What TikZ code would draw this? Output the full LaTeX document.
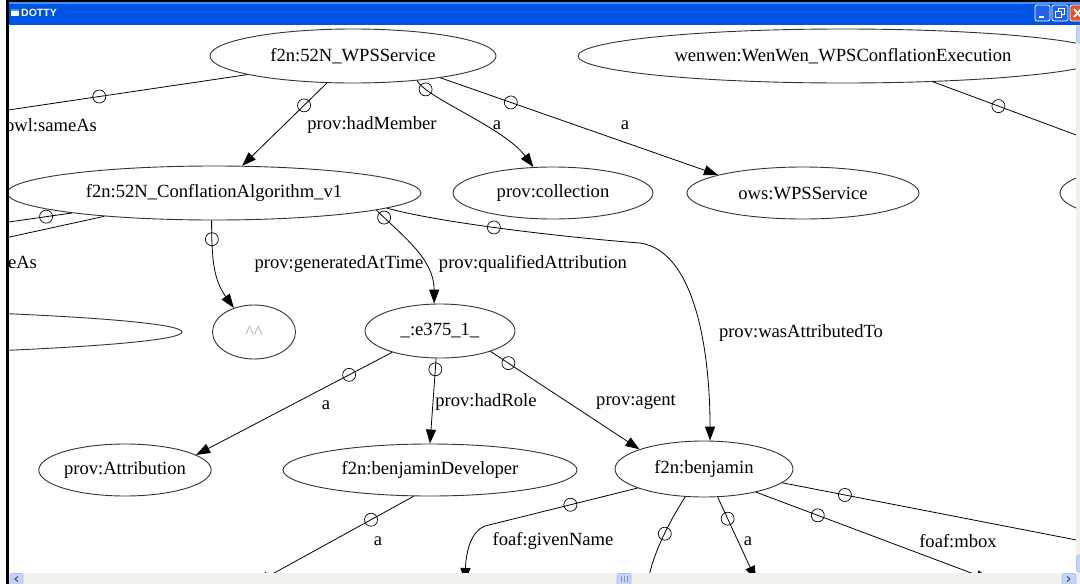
\documentclass[tikz,border=0pt]{standalone}
\usepackage{fontspec}
\setmainfont{Liberation Serif}
\newfontfamily\chromefont{Liberation Sans}
\usetikzlibrary{shapes.geometric,arrows.meta}
\newcommand\graphfont{\fontsize{18.6}{22}\selectfont}
\definecolor{titleblue}{RGB}{0,84,227}
\definecolor{titlelight}{RGB}{61,149,255}
\definecolor{btnblue}{RGB}{34,99,232}
\definecolor{closered}{RGB}{226,82,44}
\definecolor{scrollbg}{RGB}{243,241,236}
\definecolor{scrollbtn}{RGB}{196,213,252}
\definecolor{scrolledge}{RGB}{170,192,240}
\begin{document}
\begin{tikzpicture}[x=1pt,y=-1pt,
  gnode/.style={ellipse, draw=black!80, line width=0.9pt, inner sep=0pt, font=\graphfont},
  edge/.style={draw=black, line width=0.8pt},
  arr/.style={edge, -{Triangle[length=14pt,width=10pt]}},
  tail/.style={circle, draw=black, line width=0.7pt, minimum size=13pt, inner sep=0pt},
  elabel/.style={font=\graphfont, inner sep=0pt},
  sbtn/.style={fill=scrollbtn, draw=scrolledge, line width=0.6pt, rounded corners=1.5pt},
]
\useasboundingbox (0,0) rectangle (1080,584);
\fill[white] (0,0) rectangle (1080,584);

% ---------------- graph in the client area ----------------
\begin{scope}
\clip (9,25) rectangle (1076,573);

% nodes
\node[gnode, minimum width=286pt, minimum height=54pt] (wps) at (353,56) {f2n:52N\_WPSService};
\node[gnode, minimum width=530pt, minimum height=54pt] (wenwen) at (843,56) {wenwen:WenWen\_WPSConflationExecution};
\node[gnode, minimum width=414pt, minimum height=54pt] (conf) at (214,193) {f2n:52N\_ConflationAlgorithm\_v1};
\node[gnode, minimum width=200pt, minimum height=52pt] (coll) at (553,193) {prov:collection};
\node[gnode, minimum width=232pt, minimum height=52pt] (ows) at (803,193) {ows:WPSService};
\node[gnode, minimum width=176pt, minimum height=52pt] (rightpart) at (1148,193) {};
\node[gnode, minimum width=1314pt, minimum height=54pt] (leftpart) at (-475,332) {};
\node[gnode, minimum width=83pt, minimum height=54pt] (carets) at (254,332)
  {\raisebox{-4pt}{\textcolor{black!35}{\textasciicircum\textasciicircum}}};
\node[gnode, minimum width=150pt, minimum height=54pt] (e375) at (440,331) {\_:e375\_1\_};
\node[gnode, minimum width=170pt, minimum height=52pt] (attr) at (125,470) {prov:Attribution};
\node[gnode, minimum width=294pt, minimum height=52pt] (bdev) at (430,470) {f2n:benjaminDeveloper};
\node[gnode, minimum width=178pt, minimum height=56pt] (benj) at (704,469) {f2n:benjamin};

% ends of edges whose other node lies outside the view
\coordinate (offL1) at (-100,126);
\coordinate (offL2) at (-100,237.5);
\coordinate (offL3) at (-100,261);
\coordinate (offR1) at (1200,181);
\coordinate (offR2) at (1200,564);
\coordinate (offB1) at (256,583);
\coordinate (offB2) at (465,582);
\coordinate (offB3) at (646,600);
\coordinate (offB4) at (756,580);
\coordinate (offB5) at (990,580);
\coordinate (wbend) at (640,243);
\coordinate (gbend) at (485,526);

% edges
\draw[edge] (wps.-170.3) -- node[tail,pos=0.4265]{} (offL1);
\draw[arr] (wps.-134.5) -- node[tail,pos=0.27]{} (conf.44);
\draw[arr] (wps.-21.4) .. controls +(10,18) and +(-30,-40) .. (coll.127) node[tail,pos=0.15]{};
\draw[arr] (wps.-14.3) -- node[tail,pos=0.254]{} (ows.168);
\draw[edge] (wenwen.-16.2) -- node[tail,pos=0.245]{} (offR1);
\draw[edge] (conf.-172.6) -- node[tail,pos=0.15]{} (offL2);
\draw[edge] (conf.-168.4) -- (offL3);
\draw[arr] (conf.-95) .. controls +(0,40) and +(-20,-28) .. (carets.130) node[tail,pos=0.17]{};
\draw[arr] (conf.-6.67) .. controls +(25,25) and +(0,-45) .. (e375.102) node[tail,pos=0.1]{};
\draw[arr] (conf.-5.2) .. controls +(50,14) and +(-80,-6) .. (wbend) node[tail,pos=0.47]{}
  .. controls +(55,8) and +(0,-90) .. (benj.78);
\draw[arr] (e375.-156.7) -- node[tail,pos=0.22]{} (attr.12);
\draw[arr] (e375.-98) -- node[tail,pos=0.128]{} (bdev.90);
\draw[arr] (e375.-22.3) -- node[tail,pos=0.12]{} (benj.163);
\draw[arr] (bdev.-122) -- node[tail,pos=0.27]{} (offB1);
\draw[arr] (benj.-164.6) -- node[tail,pos=0.44]{} (gbend) .. controls +(-14,5) and +(1,-30) .. (offB2);
\draw[arr] (benj.-124.7) .. controls +(-18,28) and +(4,-40) .. (offB3) node[tail,pos=0.4]{};
\draw[arr] (benj.-64.9) -- node[tail,pos=0.26]{} (offB4);
\draw[arr] (benj.-24.2) -- node[tail,pos=0.264]{} (offB5);
\draw[edge] (benj.-10.9) -- node[tail,pos=0.15]{} (offR2);

% edge labels
\node[elabel] (lsameas) at (51,125) {owl:sameAs};
\node[elabel] (lsameasb) at (-9,262) {owl:sameAs};
\node[elabel] (lhadmember) at (372,125) {prov:hadMember};
\node[elabel] (lacoll) at (497,125) {a};
\node[elabel] (laows) at (625,125) {a};
\node[elabel] (lgen) at (339,264) {prov:generatedAtTime};
\node[elabel] (lqual) at (533,264) {prov:qualifiedAttribution};
\node[elabel] (lattrto) at (801,333) {prov:wasAttributedTo};
\node[elabel] (laattr) at (326,405) {a};
\node[elabel] (lrole) at (486,402) {prov:hadRole};
\node[elabel] (lagent) at (636,402) {prov:agent};
\node[elabel] (labdev) at (378,541) {a};
\node[elabel] (lgiven) at (553,541) {foaf:givenName};
\node[elabel] (labenj) at (748,541) {a};
\node[elabel] (lmbox) at (958,541) {foaf:mbox};
\end{scope}

% ---------------- window frame ----------------
\fill[black] (6,0) rectangle (1080,2);
\fill[black] (6,0) rectangle (9,584);
\fill[titleblue] (9,2) rectangle (1080,25);
\fill[titlelight] (9,2) rectangle (1080,4);
\fill[white] (11,9) rectangle (19,16);
\fill[titlelight] (11,9) rectangle (19,10.5);
\node[anchor=west, text=white, inner sep=0pt,
      font=\chromefont\bfseries\fontsize{10.5}{12}\selectfont] (wintitle) at (21,13) {DOTTY};

% caption buttons
\draw[fill=btnblue, draw=white, line width=0.8pt, rounded corners=2pt] (1035,5) rectangle (1050,21);
\fill[white] (1038.5,16) rectangle (1044,18);
\draw[fill=btnblue, draw=white, line width=0.8pt, rounded corners=2pt] (1052,5) rectangle (1068,21);
\draw[white, line width=1pt] (1058,8.5) rectangle (1064.5,14.5);
\fill[btnblue] (1055,11.5) rectangle (1061.5,17.5);
\draw[white, line width=1pt] (1055,11.5) rectangle (1061.5,17.5);
\draw[fill=closered, draw=white, line width=0.8pt, rounded corners=2pt] (1070,5) rectangle (1088,21);
\draw[white, line width=1.8pt] (1074,9) -- (1081,17) (1081,9) -- (1074,17);

% vertical scroll bar
\fill[scrollbg] (1076,25) rectangle (1080,573);
\draw[sbtn] (1076.5,26) rectangle (1083,43);
\draw[sbtn] (1076.5,555) rectangle (1083,572);

% horizontal scroll bar
\fill[scrollbg] (9,573) rectangle (1080,584);
\draw[sbtn] (10,573.5) rectangle (23,584.5);
\draw[black!70, line width=1pt] (18,576.5) -- (15,579) -- (18,581.5);
\draw[sbtn] (617,573.5) rectangle (631,584.5);
\draw[scrolledge!80!black, line width=0.5pt] (621,576) -- (621,582) (624,576) -- (624,582) (627,576) -- (627,582);
\draw[sbtn] (1062,573.5) rectangle (1076,584.5);
\draw[black!70, line width=1pt] (1067,576.5) -- (1070,579) -- (1067,581.5);
\end{tikzpicture}
\end{document}
